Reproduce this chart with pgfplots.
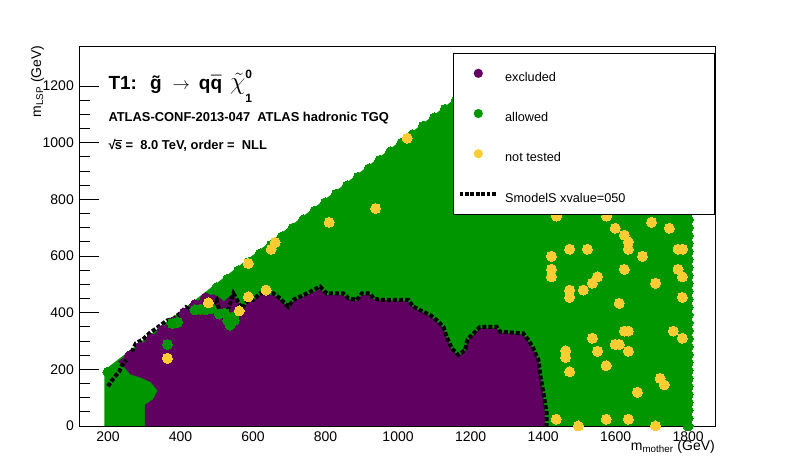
\documentclass[border=0pt]{standalone}
\usepackage{pgfplots}
\pgfplotsset{compat=1.18}
\usepackage{fontspec}
\setmainfont{Liberation Sans}
\definecolor{excl}{RGB}{96,0,96}
\definecolor{allw}{RGB}{0,150,0}
\definecolor{nott}{RGB}{255,204,51}
\begin{document}
\begin{tikzpicture}
\useasboundingbox (0,0) rectangle (796pt,474pt);
\begin{axis}[
  at={(79.3pt,48pt)}, anchor=south west,
  scale only axis, width=635.7pt, height=379.3pt,
  xmin=121, xmax=1874, ymin=0, ymax=1339,
  axis line style={line width=0.9pt},
  xtick={200,400,600,800,1000,1200,1400,1600,1800},
  xticklabels={200,400,600,800,1000,1200,1400,1600,1800},
  ytick={0,200,400,600,800,1000,1200},
  yticklabels={0,200,400,600,800,1000\hspace{6.5pt},1200\hspace{6.5pt}},
  minor x tick num=3, minor y tick num=3,
  xtick pos=bottom, ytick pos=left, tick align=inside,
  major tick length=11.5pt, minor tick length=6pt,
  ytick style={/pgfplots/major tick length=19.7pt, /pgfplots/minor tick length=10.5pt},
  tick style={line width=0.9pt, black},
  tick label style={font=\fontsize{14}{16}\selectfont, inner sep=0pt},
  xticklabel style={anchor=base, yshift=-15.7pt},
  yticklabel style={anchor=east, xshift=-5.3pt},
  xlabel={m\textsubscript{mother} (GeV)},
  xlabel style={at={(axis description cs:1,-0.064)}, anchor=base east, inner sep=0pt, font=\fontsize{14}{16}\selectfont},
  ylabel={m\textsubscript{LSP} (GeV)},
  ylabel style={at={(axis description cs:-0.0602,1.004)}, anchor=base east, inner sep=0pt, font=\fontsize{14}{16}\selectfont},
  legend cell align=left,
  legend style={at={(rel axis cs:1,0.984)}, anchor=north east, draw=black, line width=0.9pt, fill=white,
    inner xsep=4.4pt, inner ysep=0pt, row sep=0pt, column sep=6.4pt,
    nodes={inner sep=0pt, text depth={}}, font=\fontsize{12.7}{14}\selectfont},
]
% allowed region (base)
\addplot[fill=allw, draw=none, forget plot] coordinates {
 (190,-20) (190,197) (1313,1310) (1803,1310) (1803,-20)};
% edge dots (allowed)
\addplot[only marks, mark=*, mark size=5pt, color=allw, mark options={line width=0pt}, forget plot] coordinates {
 (500,488) (530,518) (560,548) (590,578) (620,608) (650,638) (680,668) (710,698) (740,728) (770,758)
 (800,788) (830,818) (860,848) (890,878) (920,908) (950,938) (980,968) (1010,998) (1040,1028) (1070,1058)
 (1100,1088) (1130,1118) (1160,1148) (1190,1178) (1220,1208) (1250,1238) (1280,1268) (1310,1298)
 (200,190) (1800,0) (1800,28) (1800,56) (1800,84) (1800,112) (1800,140) (1800,168) (1800,196) (1800,224)
 (1800,252) (1800,280) (1800,308) (1800,336) (1800,364) (1800,392) (1800,420) (1800,448) (1800,476)
 (1800,504) (1800,532) (1800,560) (1800,588) (1800,616) (1800,644) (1800,672) (1800,700) (1800,728) (1800,756)};
% excluded region
\addplot[fill=excl, draw=none, forget plot] coordinates {
 (302,-20) (302,75) (325,95) (337,125) (318,155) (288,172) (262,182) (242,212) (228,228)
 (260,257) (300,297) (350,347) (400,397) (440,437) (470,455) (490,465) (505,455) (520,440)
 (537,460) (550,455) (569,420) (601,445) (619,462) (656,462) (674,448) (697,418) (711,440)
 (748,462) (785,482) (803,462) (849,462) (863,448) (886,442) (900,462) (923,462) (932,448)
 (987,442) (1028,440) (1042,418) (1070,400) (1088,388) (1106,370) (1125,345) (1134,312)
 (1148,270) (1166,247) (1185,262) (1191,300) (1208,322) (1226,345) (1272,345) (1281,330)
 (1345,322) (1359,300) (1373,270) (1387,230) (1393,170) (1400,110) (1405,45) (1405,-20)};
\addplot[only marks, mark=*, mark size=5pt, color=excl, mark options={line width=0pt}, forget plot] coordinates {
 (260,248) (290,278) (320,308) (350,338) (380,368) (410,398) (440,428) (470,452)};
% allowed points inside the excluded region
\addplot[only marks, mark=*, mark size=5pt, color=allw, mark options={line width=0pt}, forget plot] coordinates {
 (364,288) (378,362) (392,366) (440,410) (455,412) (470,410) (485,415) (507,395) (522,398)
 (530,372) (537,356) (546,385) (548,372)};
% not tested
\addplot[only marks, mark=*, mark size=5pt, color=nott, mark options={line width=0pt}, forget plot] coordinates {
 (1437,741) (1575,741) (1699,719) (1748,698) (1599,698) (1624,674) (1635,650) (1635,624) (1473,624)
 (1522,624) (1772,624) (1785,624) (1423,599) (1674,599) (1423,553) (1624,553) (1772,553) (1423,527)
 (1550,527) (1536,504) (1784,527) (1710,504) (1473,480) (1511,480) (1473,454) (1784,454) (1610,433)
 (1624,335) (1635,335) (1759,335) (1536,310) (1784,310) (1599,288) (1610,288) (1462,266) (1550,264)
 (1635,264) (1462,242) (1473,192) (1574,213) (1723,168) (1734,145) (1660,119) (1436,24) (1497,0)
 (1574,24) (1635,24) (1710,0) (938,768) (810,719) (661,648) (650,624) (587,574) (636,480) (587,456)
 (477,435) (562,406) (364,239) (1025,1016)};
% SModelS contour
\addplot[black, line width=4pt, dash pattern=on 4pt off 2pt, forget plot] coordinates {
 (200,140) (215,168) (231,192) (238,213) (256,241) (268,268) (277,292) (297,306) (314,327)
 (339,350) (362,372) (380,378) (399,398) (415,419) (435,403) (462,401) (486,424) (500,445)
 (509,398) (522,380) (537,433) (546,468) (569,415) (587,445) (601,445) (619,468) (656,468)
 (674,451) (697,421) (711,445) (748,468) (785,492) (803,468) (849,468) (863,451) (886,445)
 (900,468) (923,468) (932,451) (950,445) (1028,445) (1042,421) (1070,403) (1088,392) (1106,374)
 (1125,350) (1134,315) (1148,274) (1166,251) (1185,268) (1191,304) (1208,327) (1226,350)
 (1272,350) (1281,333) (1345,327) (1359,304) (1373,274) (1387,233) (1393,174) (1401,115)
 (1410,45) (1410,0)};
% legend
\addlegendimage{legend image code/.code={\path[draw=none] (0pt,0pt) -- (37.6pt,0pt); \fill[excl, draw=none] (18.8pt,0pt) circle (4.6pt);}}
\addlegendentry{\makebox[205pt][l]{\rule[-12pt]{0pt}{40.2pt}excluded}}
\addlegendimage{legend image code/.code={\path[draw=none] (0pt,0pt) -- (37.6pt,0pt); \fill[allw, draw=none] (18.8pt,0pt) circle (4.6pt);}}
\addlegendentry{\makebox[205pt][l]{\rule[-12pt]{0pt}{40.2pt}allowed}}
\addlegendimage{legend image code/.code={\path[draw=none] (0pt,0pt) -- (37.6pt,0pt); \fill[nott, draw=none] (18.8pt,0pt) circle (4.6pt);}}
\addlegendentry{\makebox[205pt][l]{\rule[-12pt]{0pt}{40.2pt}not tested}}
\addlegendimage{legend image code/.code={\draw[black, line width=3.3pt, dash pattern=on 3.8pt off 1.6pt] (0pt,0pt) -- (37.6pt,0pt);}}
\addlegendentry{\makebox[205pt][l]{\rule[-12pt]{0pt}{40.2pt}SmodelS xvalue=050}}
\end{axis}
\node[anchor=base west, inner sep=0pt, font=\fontsize{19}{21}\selectfont\bfseries] at (108.3pt,384pt)
 {T1:\hspace{6pt} \accent"02DC g\hspace{11pt}$\rightarrow$\hspace{9pt}q\accent"00AF q\hspace{8pt}{\fontsize{23}{23}\selectfont$\tilde{\chi}$}\rlap{\raisebox{11pt}{\fontsize{12}{12}\selectfont\bfseries 0}}\raisebox{-13pt}{\fontsize{12}{12}\selectfont\bfseries 1}};
\node[anchor=base west, inner sep=0pt, font=\fontsize{12.9}{14}\selectfont\bfseries] at (108.3pt,352pt)
 {ATLAS-CONF-2013-047\ \ ATLAS hadronic TGQ};
\node[anchor=base west, inner sep=0pt, font=\fontsize{12.9}{14}\selectfont\bfseries] at (108.3pt,324pt)
 {√\kern-0.6pt\vbox{\hrule height 0.9pt\kern 2pt\hbox{s}} = \ 8.0 TeV, order = \ NLL};
\end{tikzpicture}
\end{document}
